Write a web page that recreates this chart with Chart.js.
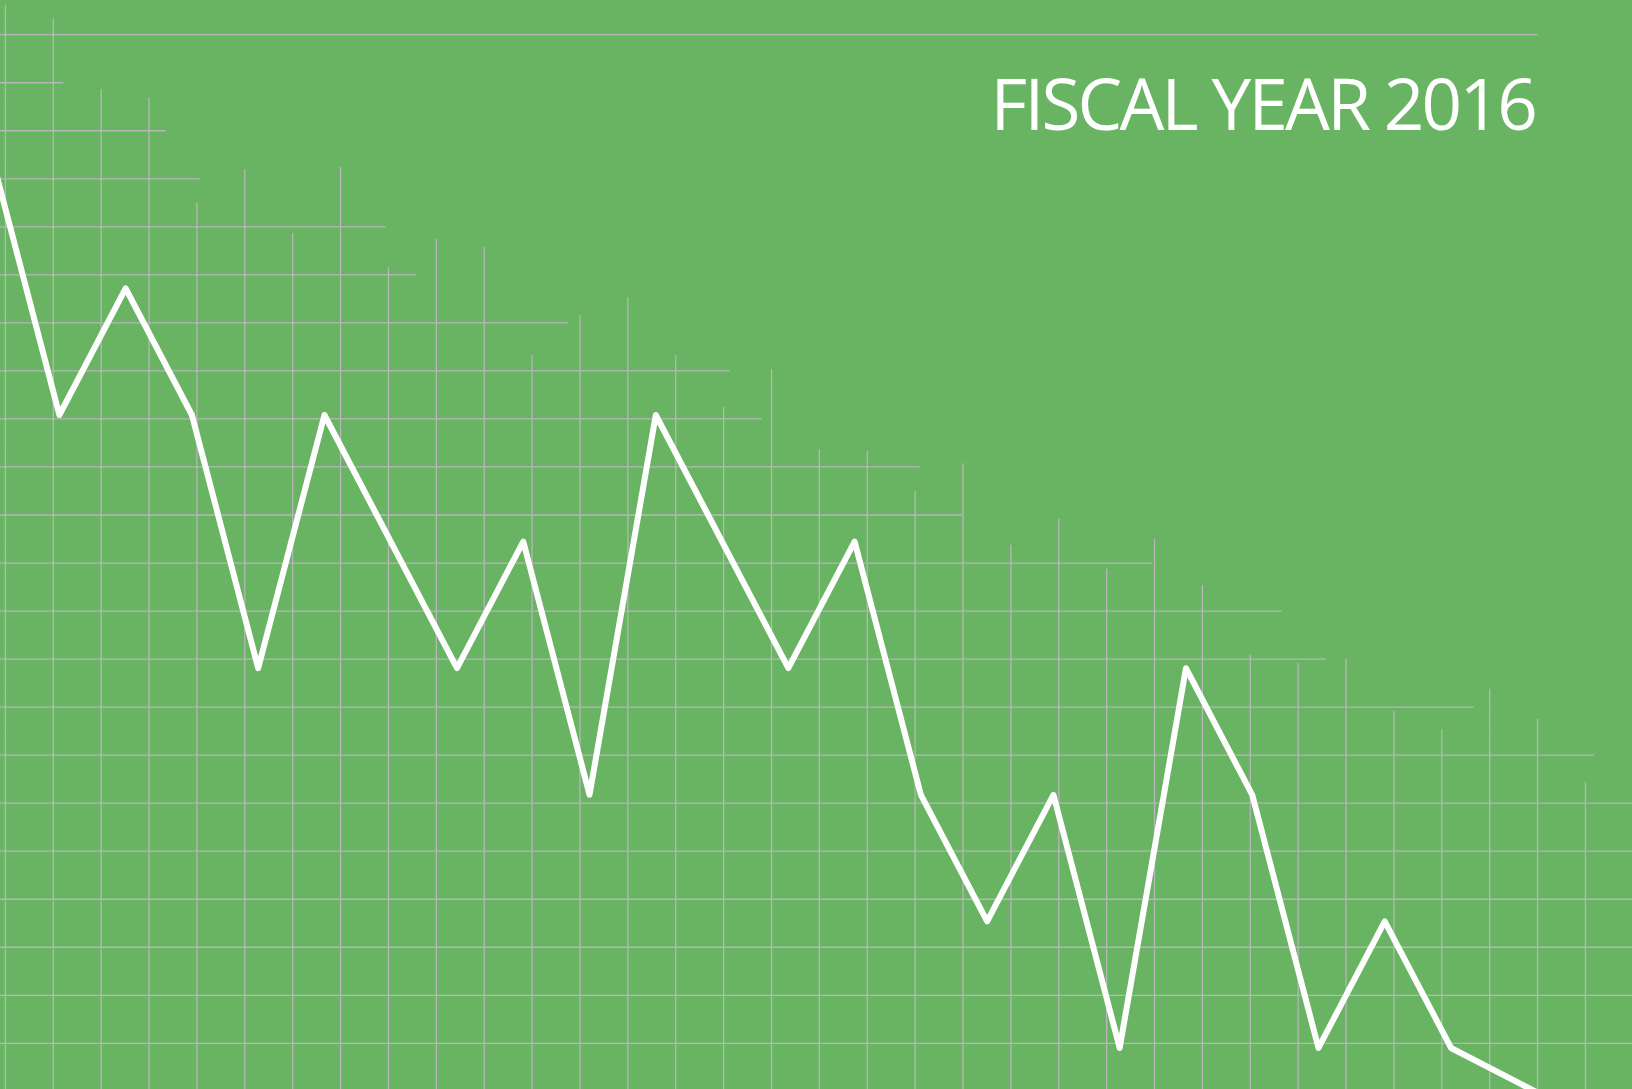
<!DOCTYPE html>
<html>
<head>
<meta charset="utf-8">
<script src="https://cdn.jsdelivr.net/npm/chart.js@4/dist/chart.umd.min.js"></script>
<style>
	body { margin: 0; background: #68b462; }
	#wrap { position: relative; width: 1632px; height: 1089px; background: #68b462; overflow: hidden; }
	#title {
		position: absolute; right: 97px; top: 67px;
		font-family: 'Open Sans', sans-serif; font-size: 71px; line-height: 1;
		color: #fff; letter-spacing: -2.8px; white-space: nowrap;
	}
</style>
</head>
<body>
<div id="wrap">
	<canvas id="lineChart"></canvas>
	<div id="title">FISCAL YEAR 2016</div>
</div>
<script>
// zigzag values, one per step
const lineLevels = [7, 5, 6, 5, 3, 5, 4, 3, 4, 2, 5, 4, 3, 4, 2, 1, 2, 0, 3, 2, 0, 1, 0, -0.27, -0.54];

// top of each vertical grid line (in rows, 0 = first row)
const columnTops = [
	-0.62, -0.33, 1.13, 1.3, 3.5, 2.8, 4.13, 2.75, 4.84, 4.25, 4.42, 6.67,
	5.84, 5.46, 6.67, 7.75, 6.96, 8.63, 8.67, 9.5, 8.92, 10.62, 10.08, 11.12,
	10.5, 11.46, 12.91, 13.08, 12.99, 14.08, 14.46, 13.62, 14.25, 15.56,
];

// right end of each horizontal grid line (in columns)
const rowEnds = [
	32, 1.21, 3.35, 4.06, 7.94, 8.58, 11.75, 15.13, 15.8, 19.1, 19.98,
	23.96, 26.66, 27.58, 30.67, 33.18, 35, 35, 35, 35, 35, 35,
];

const ctx = document.querySelector('#lineChart');

const stepGrid = {
	id: 'stepGrid',
	beforeDatasetsDraw(chart) {
		const { ctx: c, chartArea, scales } = chart;
		const gx = scales.gx;
		const gy = scales.gy;
		c.save();
		c.strokeStyle = '#b7b6ba';
		c.lineWidth = 1.3;
		c.beginPath();
		columnTops.forEach((top, k) => {
			const x = gx.getPixelForValue(k);
			c.moveTo(x, gy.getPixelForValue(top));
			c.lineTo(x, chartArea.bottom);
		});
		rowEnds.forEach((end, r) => {
			const y = gy.getPixelForValue(r);
			c.moveTo(chartArea.left, y);
			c.lineTo(gx.getPixelForValue(end), y);
		});
		c.stroke();
		c.restore();
	},
};

const myChart = new Chart(ctx, {
	type: 'line',
	data: {
		datasets: [
			{
				label: 'Fiscal year 2016',
				data: lineLevels.map((v, i) => ({ x: i, y: v })),
				borderColor: '#ffffff',
				borderWidth: 6,
				borderJoinStyle: 'round',
				pointRadius: 0,
				tension: 0,
				xAxisID: 'x',
				yAxisID: 'y',
			},
		],
	},
	options: {
		responsive: true,
		maintainAspectRatio: false,
		animation: false,
		layout: { padding: 0 },
		plugins: { legend: { display: false }, tooltip: { enabled: false } },
		scales: {
			x: { type: 'linear', axis: 'x', display: false, min: 0.104, max: 24.731 },
			y: { type: 'linear', axis: 'y', display: false, min: -0.324, max: 8.278 },
			gx: { type: 'linear', axis: 'x', display: false, min: -0.113, max: 33.972 },
			gy: { type: 'linear', axis: 'y', display: false, reverse: true, min: -0.7225, max: 21.951 },
		},
	},
	plugins: [stepGrid],
});
</script>
</body>
</html>
